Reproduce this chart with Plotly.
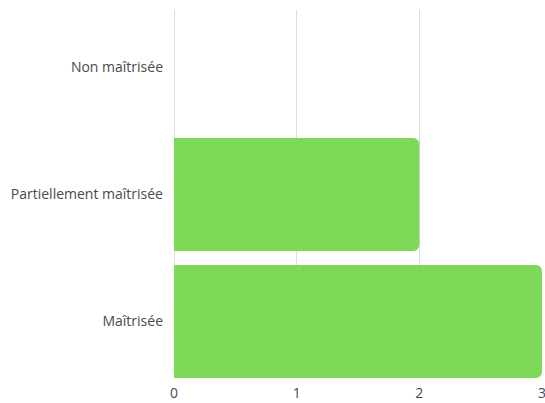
import plotly.graph_objects as go

categories = ["Maîtrisée", "Partiellement maîtrisée", "Non maîtrisée"]
values = [3, 2, 0]
x_ticks = [0, 1, 2, 3]

fig = go.Figure(go.Bar(
    x=values, y=categories, orientation="h",
    marker=dict(color="#7ED957", line=dict(width=0)),
    width=0.89,
))

fig.update_layout(
    width=545, height=403,
    margin=dict(l=174, r=3, t=10, b=25, autoexpand=False),
    paper_bgcolor="white", plot_bgcolor="white",
    font=dict(family="Open Sans", size=14, color="#4a4a4a"),
    barcornerradius=6,
    showlegend=False,
    xaxis=dict(range=[0, 3], tickvals=x_ticks, showgrid=True, gridcolor="#ddd",
               zeroline=True, zerolinecolor="#ddd", zerolinewidth=1,
               showline=False, ticks="", fixedrange=True, automargin=False,
               ticklabeloverflow="allow", ticklabelstandoff=5),
    yaxis=dict(type="category", categoryorder="array", categoryarray=categories,
               range=[-0.445, 2.453], showgrid=False, zeroline=False,
               showline=False, ticks="", ticklabelstandoff=10, automargin=False),
)

fig.write_html(
    "out.html",
    config={"displayModeBar": False},
    post_script="document.body.style.margin='0';document.body.style.overflow='hidden';",
)
